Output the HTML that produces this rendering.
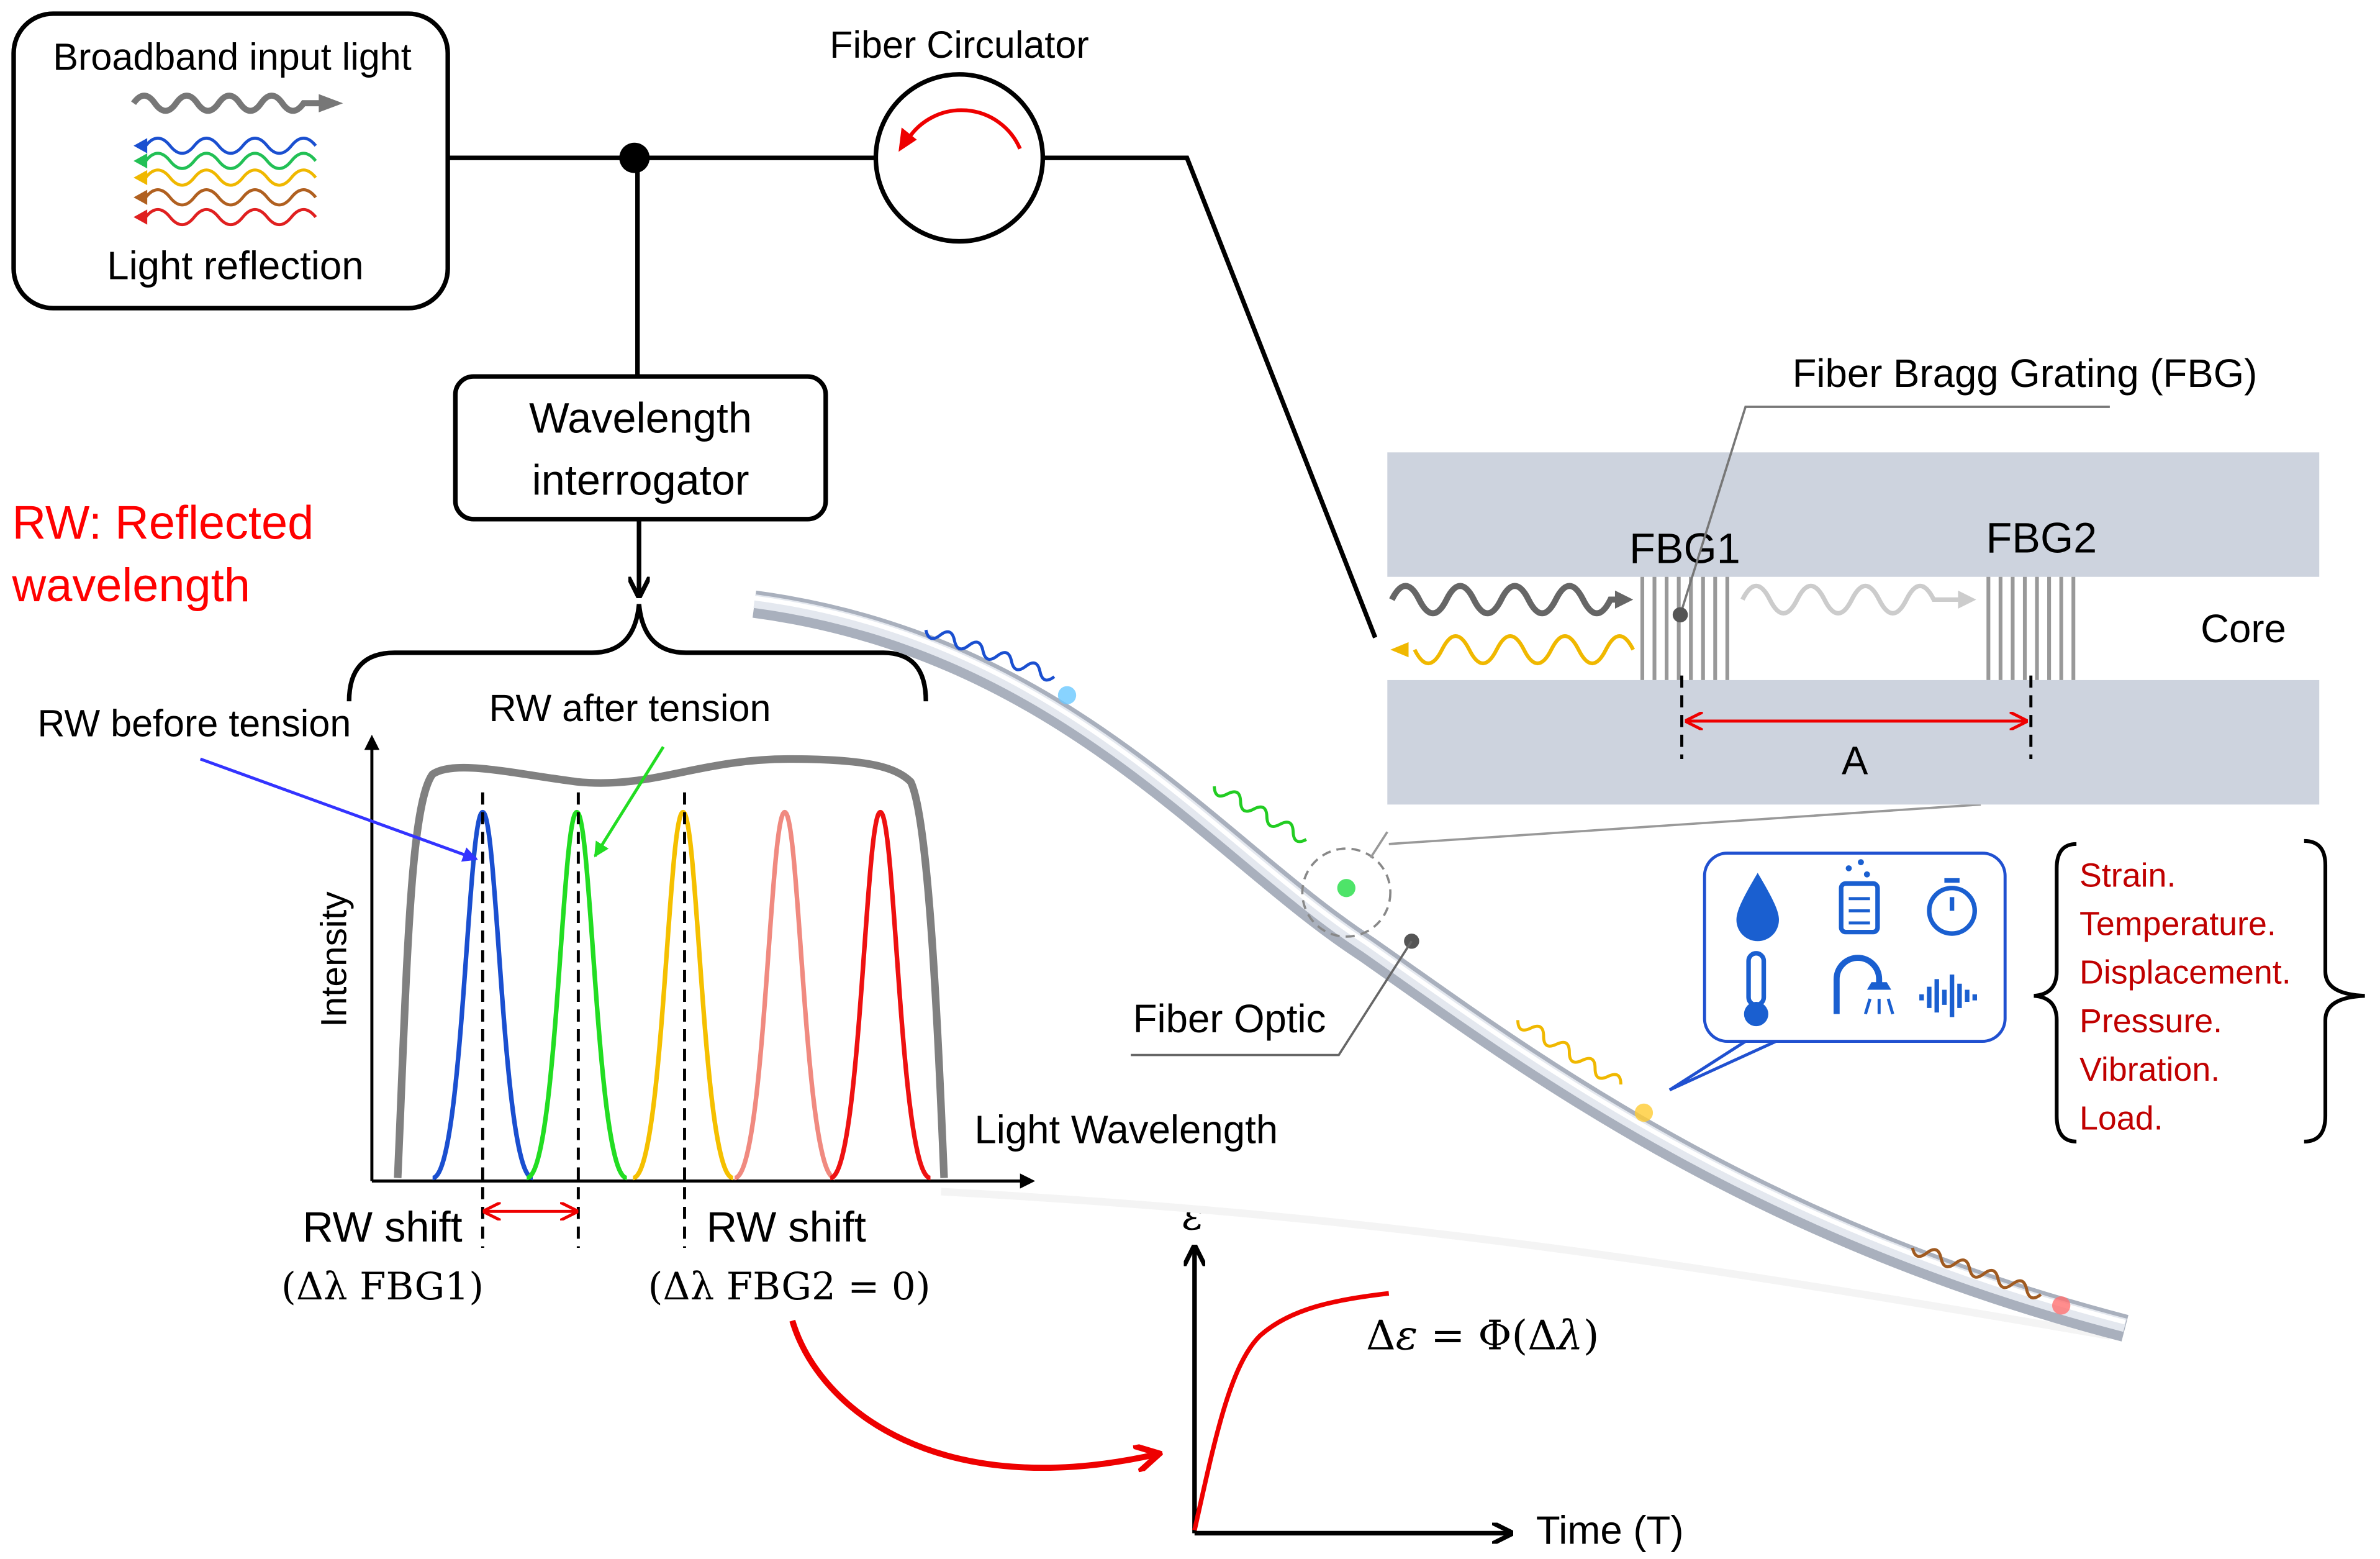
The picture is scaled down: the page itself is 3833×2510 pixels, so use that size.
<!DOCTYPE html>
<html><head><meta charset="utf-8"><style>
html,body{margin:0;padding:0;background:#fff;}
svg{display:block;}
text{font-family:"Liberation Sans",sans-serif;}
.serif{font-family:"DejaVu Serif","Liberation Serif",serif;}
</style></head><body>
<svg width="3833" height="2510" viewBox="0 0 1568 1027" preserveAspectRatio="none" xmlns="http://www.w3.org/2000/svg">
<defs>
<marker id="ak" markerWidth="10" markerHeight="10" refX="8" refY="5" orient="auto" markerUnits="userSpaceOnUse"><path d="M0,0 L10,5 L0,10 z" fill="#000"/></marker>
<marker id="ar" markerWidth="12" markerHeight="12" refX="10" refY="6" orient="auto-start-reverse" markerUnits="userSpaceOnUse"><path d="M0,0 L12,6 L0,12" fill="none" stroke="#e00" stroke-width="2"/></marker>
<marker id="ab" markerWidth="10" markerHeight="10" refX="9" refY="5" orient="auto" markerUnits="userSpaceOnUse"><path d="M0,0 L10,5 L0,10 z" fill="#33f"/></marker>
<marker id="ag" markerWidth="10" markerHeight="10" refX="9" refY="5" orient="auto" markerUnits="userSpaceOnUse"><path d="M0,0 L10,5 L0,10 z" fill="#2d2"/></marker>
<marker id="abl" markerWidth="14" markerHeight="14" refX="12" refY="7" orient="auto" markerUnits="userSpaceOnUse"><path d="M0,0 L14,7 L0,14" fill="none" stroke="#000" stroke-width="3"/></marker>
<marker id="arr" markerWidth="18" markerHeight="18" refX="14" refY="9" orient="auto" markerUnits="userSpaceOnUse"><path d="M0,0 L16,9 L0,18" fill="none" stroke="#e00" stroke-width="4"/></marker>
</defs>

<rect x="9" y="9" width="286" height="194" rx="26" fill="#fff" stroke="#000" stroke-width="3"/>
<text x="153" y="46" font-size="25" text-anchor="middle">Broadband input light</text>
<path d="M88,68 q7,-10 14,0 t14,0 t14,0 t14,0 t14,0 t14,0 t14,0 t14,0 L212,68" fill="none" stroke="#777" stroke-width="4"/>
<path d="M210,62 L226,68 L210,74z" fill="#777"/>
<g fill="none" stroke-width="2">
<path d="M96,96 q8,-10 16,0 t16,0 t16,0 t16,0 t16,0 t16,0 t16,0" stroke="#1a4fd0"/>
<path d="M96,106 q8,-10 16,0 t16,0 t16,0 t16,0 t16,0 t16,0 t16,0" stroke="#22c055"/>
<path d="M96,117 q8,-10 16,0 t16,0 t16,0 t16,0 t16,0 t16,0 t16,0" stroke="#f0b800"/>
<path d="M96,130 q8,-10 16,0 t16,0 t16,0 t16,0 t16,0 t16,0 t16,0" stroke="#b06020"/>
<path d="M96,143 q8,-10 16,0 t16,0 t16,0 t16,0 t16,0 t16,0 t16,0" stroke="#e02020"/>
</g>
<path d="M88,96 l9,-5 v10z" fill="#1a4fd0"/><path d="M88,106 l9,-5 v10z" fill="#22c055"/><path d="M88,117 l9,-5 v10z" fill="#f0b800"/><path d="M88,130 l9,-5 v10z" fill="#b06020"/><path d="M88,143 l9,-5 v10z" fill="#e02020"/>
<text x="155" y="184" font-size="26" text-anchor="middle">Light reflection</text>

<path d="M295,104 H578" stroke="#000" stroke-width="3"/>
<circle cx="418" cy="104" r="10" fill="#000"/>
<path d="M420,104 V248" stroke="#000" stroke-width="3"/>
<circle cx="632" cy="104" r="55" fill="#fff" stroke="#000" stroke-width="3"/>
<path d="M672,98 A42,42 0 0 0 598,92" fill="none" stroke="#e00" stroke-width="2.5"/>
<path d="M592,100 L594,84 L604,92z" fill="#e00"/>
<text x="632" y="38" font-size="25" text-anchor="middle">Fiber Circulator</text>
<path d="M687,104 H782 L906,420" fill="none" stroke="#000" stroke-width="3"/>

<rect x="300" y="248" width="244" height="94" rx="12" fill="#fff" stroke="#000" stroke-width="3"/>
<text x="422" y="285" font-size="28" text-anchor="middle">Wavelength</text>
<text x="422" y="326" font-size="28" text-anchor="middle">interrogator</text>
<path d="M421,342 V392" stroke="#000" stroke-width="3" marker-end="url(#abl)"/>
<path d="M230,462 Q230,430 260,430 H390 Q418,430 421,398 Q424,430 452,430 H582 Q610,430 610,462" fill="none" stroke="#000" stroke-width="3"/>

<text x="8" y="355" font-size="31" fill="#f00">RW: Reflected</text>
<text x="8" y="396" font-size="31" fill="#f00">wavelength</text>

<path d="M245,778 V486" stroke="#000" stroke-width="2" marker-end="url(#ak)"/>
<path d="M245,778 H680" stroke="#000" stroke-width="2" marker-end="url(#ak)"/>
<path d="M262,776 C268,640 270,530 285,510 C300,500 340,510 380,515 C430,520 460,500 520,500 C570,500 590,505 600,515 C612,540 618,680 622,776" fill="none" stroke="#808080" stroke-width="5"/>
<g fill="none" stroke-width="3">
<path d="M285,776 C305,776 308,535 318,535 C328,535 331,776 351,776" stroke="#1a4fd0"/>
<path d="M347,776 C367,776 370,535 380,535 C390,535 393,776 413,776" stroke="#22dd22"/>
<path d="M417,776 C437,776 440,535 450,535 C460,535 463,776 483,776" stroke="#f5c000"/>
<path d="M484,776 C504,776 507,535 517,535 C527,535 530,776 550,776" stroke="#f08a80"/>
<path d="M547,776 C567,776 570,535 580,535 C590,535 593,776 613,776" stroke="#ee1111"/>
</g>
<g stroke="#000" stroke-width="2" stroke-dasharray="8,5">
<path d="M318,522 V822"/><path d="M381,522 V822"/><path d="M451,522 V822"/>
</g>
<text x="128" y="485" font-size="25" text-anchor="middle">RW before tension</text>
<text x="415" y="475" font-size="25" text-anchor="middle">RW after tension</text>
<path d="M132,500 L314,566" stroke="#33f" stroke-width="2" marker-end="url(#ab)"/>
<path d="M437,492 L392,564" stroke="#2d2" stroke-width="2" marker-end="url(#ag)"/>
<text x="228" y="632" font-size="24" text-anchor="middle" transform="rotate(-90 228 632)">Intensity</text>
<text x="642" y="753" font-size="26">Light Wavelength</text>
<path d="M320,798 H379" stroke="#e00" stroke-width="2" marker-start="url(#ar)" marker-end="url(#ar)"/>
<text x="252" y="818" font-size="28" text-anchor="middle">RW shift</text>
<text x="252" y="856" font-size="25" text-anchor="middle" class="serif">(Δλ FBG1)</text>
<text x="518" y="818" font-size="28" text-anchor="middle">RW shift</text>
<text x="520" y="856" font-size="25" text-anchor="middle" class="serif">(Δλ FBG2 = 0)</text>
<path d="M522,870 C540,930 620,990 762,958" fill="none" stroke="#e00" stroke-width="4" marker-end="url(#arr)"/>

<path d="M787,1010 V822" stroke="#000" stroke-width="3" marker-end="url(#abl)"/>
<path d="M787,1010 H995" stroke="#000" stroke-width="3" marker-end="url(#abl)"/>
<text x="779" y="810" font-size="27" class="serif"><tspan font-style="italic">ε</tspan></text>
<text x="1012" y="1017" font-size="26">Time (T)</text>
<path d="M787,1008 C800,950 810,900 830,880 C850,862 880,856 915,852" fill="none" stroke="#e00" stroke-width="3"/>
<text x="900" y="889" font-size="27" class="serif">Δ<tspan font-style="italic">ε</tspan> = Φ(Δ<tspan font-style="italic">λ</tspan>)</text>

<path d="M620,785 C900,800 1100,830 1390,880" fill="none" stroke="#f4f4f4" stroke-width="5"/>
<path d="M497,398 C700,425 800,560 900,625 C1000,695 1150,810 1400,875" fill="none" stroke="#a9b0bd" stroke-width="18"/>
<path d="M497,396 C700,423 800,558 900,623 C1000,693 1150,808 1400,873" fill="none" stroke="#e4e8ef" stroke-width="9"/>
<path d="M497,394 C700,421 800,556 900,621 C1000,691 1150,806 1400,871" fill="none" stroke="#fff" stroke-width="3"/>
<g fill="none" stroke-width="2">
<path d="M610,415 q5,8 10,0 t10,0 t10,0 t10,0 t10,0 t10,0 t10,0 t10,0 t10,0" stroke="#1a4fd0" transform="rotate(20 610 415)"/>
<path d="M800,518 q5,8 10,0 t10,0 t10,0 t10,0 t10,0 t10,0 t10,0" stroke="#22cc22" transform="rotate(30 800 518)"/>
<path d="M1000,672 q5,8 10,0 t10,0 t10,0 t10,0 t10,0 t10,0 t10,0 t10,0" stroke="#f0b800" transform="rotate(32 1000 672)"/>
<path d="M1260,822 q5,8 10,0 t10,0 t10,0 t10,0 t10,0 t10,0 t10,0 t10,0 t10,0" stroke="#a05a20" transform="rotate(20 1260 822)"/>
</g>
<circle cx="703" cy="458" r="6" fill="#6ac8ff" opacity="0.8"/>
<circle cx="887" cy="585" r="6" fill="#22dd44" opacity="0.8"/>
<circle cx="1083" cy="733" r="6" fill="#ffcc33" opacity="0.8"/>
<circle cx="1358" cy="860" r="6" fill="#ff7070" opacity="0.8"/>

<circle cx="887" cy="588" r="29" fill="none" stroke="#888" stroke-width="1.5" stroke-dasharray="6,4"/>
<path d="M903,565 L914,548 M915,556 L1305,530" stroke="#999" stroke-width="1.5"/>
<circle cx="930" cy="620" r="5" fill="#555"/>
<path d="M930,620 L882,695 H745" fill="none" stroke="#666" stroke-width="1.5"/>
<text x="810" y="680" font-size="26" text-anchor="middle">Fiber Optic</text>

<rect x="914" y="298" width="614" height="82" fill="#cdd3de"/>
<rect x="914" y="448" width="614" height="82" fill="#cdd3de"/>
<g stroke="#999" stroke-width="2.5">
<path d="M1082,380 V448 M1090,380 V448 M1098,380 V448 M1106,380 V448 M1114,380 V448 M1122,380 V448 M1130,380 V448 M1138,380 V448"/>
<path d="M1310,380 V448 M1318,380 V448 M1326,380 V448 M1334,380 V448 M1342,380 V448 M1350,380 V448 M1358,380 V448 M1366,380 V448"/>
</g>
<path d="M917,395 q9,-18 18,0 t18,0 t18,0 t18,0 t18,0 t18,0 t18,0 t18,0 L1066,395" fill="none" stroke="#666" stroke-width="4"/>
<path d="M1064,389 L1076,395 L1064,401z" fill="#666"/>
<path d="M1148,395 q9,-18 18,0 t18,0 t18,0 t18,0 t18,0 t18,0 t18,0 L1290,395" fill="none" stroke="#ccc" stroke-width="3"/>
<path d="M1290,389 L1302,395 L1290,401z" fill="#ccc"/>
<path d="M932,428 q9,18 18,0 t18,0 t18,0 t18,0 t18,0 t18,0 t18,0 t18,0" fill="none" stroke="#f0b800" stroke-width="2.5"/>
<path d="M916,428 l12,-5 v10z" fill="#f0b800"/>
<text x="1110" y="371" font-size="28" text-anchor="middle">FBG1</text>
<text x="1345" y="364" font-size="28" text-anchor="middle">FBG2</text>
<text x="1478" y="423" font-size="26" text-anchor="middle">Core</text>
<g stroke="#000" stroke-width="2" stroke-dasharray="8,5"><path d="M1108,445 V500"/><path d="M1338,445 V500"/></g>
<path d="M1112,475 H1334" stroke="#e00" stroke-width="2" marker-start="url(#ar)" marker-end="url(#ar)"/>
<text x="1222" y="510" font-size="26" text-anchor="middle">A</text>
<text x="1334" y="255" font-size="26" text-anchor="middle">Fiber Bragg Grating (FBG)</text>
<path d="M1390,268 H1150 L1107,405" fill="none" stroke="#777" stroke-width="1.5"/>
<circle cx="1107" cy="405" r="5" fill="#555"/>

<path d="M1150,686 L1100,718 L1170,686" fill="#fff" stroke="#2050d0" stroke-width="2"/>
<rect x="1123" y="562" width="198" height="124" rx="15" fill="#fff" stroke="#2050d0" stroke-width="2"/>
<g fill="#1a5fd0" stroke="#1a5fd0">
<path d="M1158,575 C1148,592 1144,600 1144,606 a14,14 0 0 0 28,0 C1172,600 1168,592 1158,575z" stroke="none"/>
<rect x="1213" y="582" width="24" height="32" rx="3" fill="none" stroke-width="3"/>
<path d="M1218,592 h14 M1218,600 h14 M1218,608 h14" stroke-width="2"/>
<circle cx="1218" cy="572" r="2" stroke="none"/><circle cx="1226" cy="568" r="2" stroke="none"/><circle cx="1230" cy="576" r="2" stroke="none"/>
<circle cx="1286" cy="600" r="15" fill="none" stroke-width="3"/>
<path d="M1286,600 V591 M1281,580 h10" stroke-width="3"/>
<rect x="1152" y="628" width="10" height="34" rx="5" fill="none" stroke-width="3"/>
<circle cx="1157" cy="668" r="8" stroke="none"/>
<path d="M1210,668 V645 a14,14 0 0 1 28,0 v4" fill="none" stroke-width="4"/>
<path d="M1230,652 h16 l-3,-5 h-10z" stroke="none"/>
<path d="M1232,658 l-3,10 M1238,658 v10 M1244,658 l3,10" stroke-width="2"/>
<path d="M1266,655 v4 M1271,650 v14 M1276,645 v22 M1281,652 v10 M1286,642 v28 M1291,648 v16 M1296,652 v8 M1301,655 v4" stroke-width="3"/>
</g>

<path d="M1368,556 Q1355,556 1355,572 V640 Q1355,655 1340,656 Q1355,657 1355,672 V735 Q1355,752 1368,752" fill="none" stroke="#000" stroke-width="2.5"/>
<path d="M1518,554 Q1532,554 1532,570 V640 Q1532,655 1558,656 Q1532,657 1532,672 V735 Q1532,752 1518,752" fill="none" stroke="#000" stroke-width="2.5"/>
<g font-size="22" fill="#c00000">
<text x="1370" y="584">Strain.</text>
<text x="1370" y="616">Temperature.</text>
<text x="1370" y="648">Displacement.</text>
<text x="1370" y="680">Pressure.</text>
<text x="1370" y="712">Vibration.</text>
<text x="1370" y="744">Load.</text>
</g>
</svg>
</body></html>
